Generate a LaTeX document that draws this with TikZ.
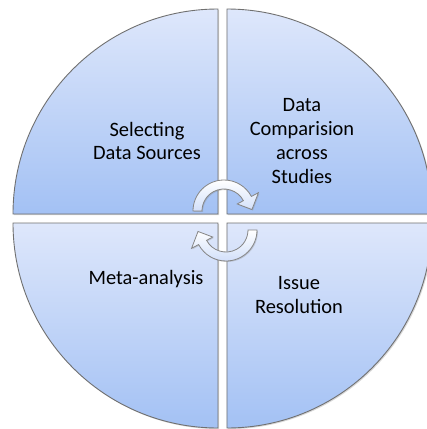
\documentclass[tikz,border=0pt]{standalone}
\usepackage{fontspec}
\setmainfont{Carlito}
\usepackage{tikz}
\usetikzlibrary{shadows}
\usepackage{xcolor}
\definecolor{quadtop}{RGB}{222,231,251}
\definecolor{quadbottom}{RGB}{163,193,244}
\definecolor{rimgray}{RGB}{112,112,112}
\tikzset{
  quadrant/.style={draw=rimgray, line width=0.9pt,
                   top color=quadtop, bottom color=quadbottom,
                   drop shadow={opacity=0.3, shadow xshift=1.2pt, shadow yshift=-1.2pt}},
  cyclearrow/.style={draw=rimgray!85, line width=0.8pt,
                   top color=white, bottom color=quadtop!80!quadbottom,
                   drop shadow={opacity=0.3, shadow xshift=1pt, shadow yshift=-1pt}},
  quadtext/.style={font=\fontsize{20.5}{24}\selectfont, align=center, text=black},
}

\begin{document}
\begin{tikzpicture}[x=1bp, y=1bp]
    \fill[white] (-222.5,-210.5) rectangle (204.5,218.5);
    \useasboundingbox (-222.5,-210.5) rectangle (204.5,218.5);
    % Four quarter discs, split by a narrow cross
    \path[quadrant] (-4.5,4.5) -- (-209.5,4.5)
      arc[start angle=180, end angle=90, radius=205] -- cycle;
    \path[quadrant] (4.5,4.5) -- (4.5,209.5)
      arc[start angle=90, end angle=0, radius=205] -- cycle;
    \path[quadrant] (4.5,-4.5) -- (209.5,-4.5)
      arc[start angle=0, end angle=-90, radius=205] -- cycle;
    \path[quadrant] (-4.5,-4.5) -- (-4.5,-209.5)
      arc[start angle=270, end angle=180, radius=205] -- cycle;
    % Two curved arrows in the middle
    \foreach \rot/\cx/\cy in {0/1.5/7.5, 180/3.5/-11.5}
      \path[cyclearrow, shift={(\cx,\cy)}, rotate=\rot]
        (180:31) arc[start angle=180, end angle=28, radius=31]
        -- (28:39) -- (3:28) -- (28:15) -- (28:22)
        arc[start angle=28, end angle=180, radius=22] -- cycle;
    % Quadrant captions
    \node[quadtext] (select)  at (-75.5,77.5)  {Selecting\\Data Sources};
    \node[quadtext] (compare) at (79.5,77.5)   {Data\\Comparision\\across\\Studies};
    \node[quadtext] (meta)    at (-76.5,-60.5) {Meta-analysis};
    \node[quadtext] (issue)   at (76.5,-76.5)  {Issue\\Resolution};
\end{tikzpicture}
\end{document}
